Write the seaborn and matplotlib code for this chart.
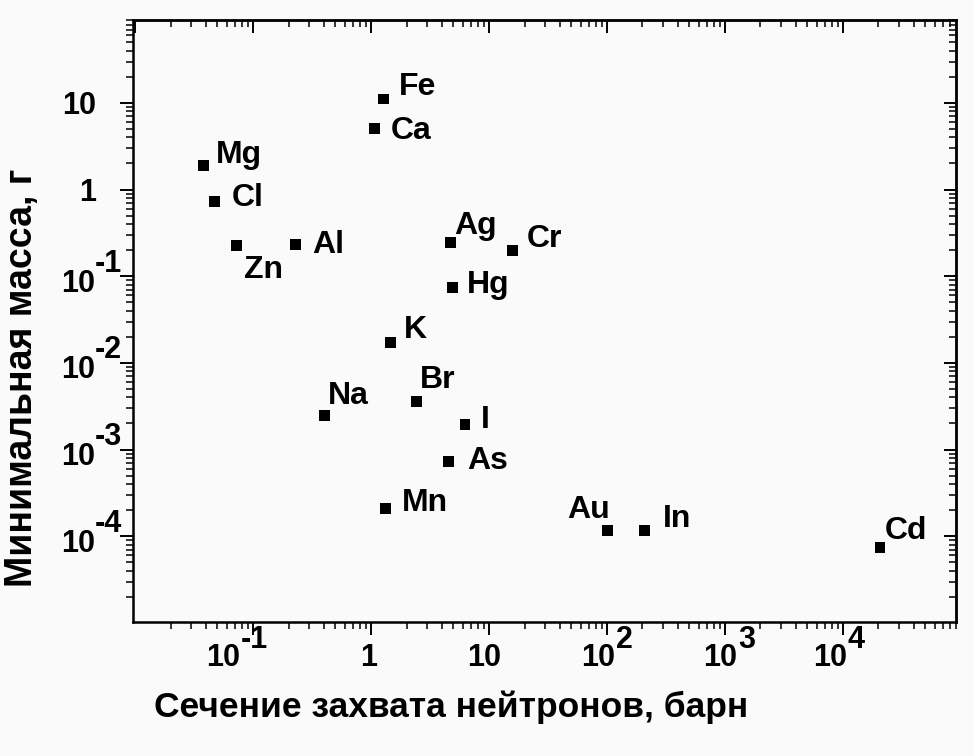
import numpy as np
import pandas as pd
import matplotlib
matplotlib.use("Agg")
import matplotlib.pyplot as plt
import matplotlib.ticker as mticker
import seaborn as sns

# Data (log-log scatter)
elements = ["Fe", "Ca", "Mg", "Cl", "Zn", "Al", "Ag", "Cr", "Hg",
            "K", "Br", "Na", "I", "As", "Mn", "Au", "In", "Cd"]
cross_section = [1.28, 1.08, 0.038, 0.047, 0.072, 0.23, 4.7, 15.9, 4.9,
                 1.46, 2.41, 0.40, 6.26, 4.52, 1.32, 101, 207, 20600]
min_mass = [11.1, 5.06, 1.89, 0.73, 0.226, 0.232, 0.247, 0.200, 0.0736,
            0.0173, 0.00362, 0.00249, 0.00195, 7.3e-4, 2.07e-4, 1.15e-4, 1.15e-4, 7.5e-5]

x_ticks = [1e-1, 1, 10, 1e2, 1e3, 1e4]
x_bases = ["10", "1", "10", "10", "10", "10"]
x_exps = ["-1", "", "", "2", "3", "4"]
y_ticks = [10, 1, 1e-1, 1e-2, 1e-3, 1e-4]
y_bases = ["10", "1", "10", "10", "10", "10"]
y_exps = ["", "", "-1", "-2", "-3", "-4"]

# label placement (pixels from marker, screen y down), ha
label_pos = {
    "Fe": (15, -16, "left"), "Ca": (16, -1, "left"), "Mg": (12, -14, "left"),
    "Cl": (17, -7, "left"), "Zn": (8, 21, "left"), "Al": (17, -3, "left"),
    "Ag": (4, -20, "left"), "Cr": (14, -15, "left"), "Hg": (14, -6, "left"),
    "K": (13, -16, "left"), "Br": (4, -25, "left"), "Na": (4, -23, "left"),
    "I": (16, -8, "left"), "As": (19, -4, "left"), "Mn": (17, -9, "left"),
    "Au": (2, -24, "right"), "In": (19, -15, "left"), "Cd": (5, -20, "left"),
}
# right edge of the "10"/"1" base of x tick labels, pixels from tick
x_label_dx = [-13, 6, 12, 8, 12, 4]

df = pd.DataFrame({"element": elements, "sigma": cross_section, "mass": min_mass})

sns.set_style("white")
plt.rcParams["font.family"] = ["Liberation Sans", "DejaVu Sans"]
plt.rcParams["axes.linewidth"] = 1.8

bg = "#fafafa"
fig = plt.figure(figsize=(9.74, 7.56), dpi=100, facecolor=bg)
ax = fig.add_axes([133 / 974, 1 - 622 / 756, (956 - 133) / 974, (622 - 20) / 756])
ax.set_facecolor(bg)

sns.scatterplot(data=df, x="sigma", y="mass", marker="s", s=62, color="black",
                edgecolor="none", ax=ax, legend=False)

ax.set_xscale("log")
ax.set_yscale("log")
ax.set_xlim(10 ** -2.017, 10 ** 4.958)
ax.set_ylim(10 ** -4.99, 10 ** 1.957)

for spine in ax.spines.values():
    spine.set_color("black")

# ticks: out on bottom/left, in on top/right
ax.set_xticks(x_ticks)
ax.set_yticks(y_ticks)
ax.xaxis.set_minor_locator(mticker.LogLocator(base=10, subs=np.arange(2, 10), numticks=20))
ax.yaxis.set_minor_locator(mticker.LogLocator(base=10, subs=np.arange(2, 10), numticks=20))
ax.xaxis.set_major_formatter(mticker.NullFormatter())
ax.yaxis.set_major_formatter(mticker.NullFormatter())
ax.xaxis.set_minor_formatter(mticker.NullFormatter())
ax.yaxis.set_minor_formatter(mticker.NullFormatter())
ax.tick_params(which="both", bottom=True, left=True, top=False, right=False)
ax.tick_params(which="major", direction="out", length=9.4, width=1.4, color="black")
ax.tick_params(which="minor", direction="out", length=5, width=1.1, color="black")

secx = ax.secondary_xaxis("top")
secy = ax.secondary_yaxis("right")
for sec, axis in ((secx, secx.xaxis), (secy, secy.yaxis)):
    axis.set_major_locator(mticker.LogLocator(base=10, numticks=20))
    axis.set_minor_locator(mticker.LogLocator(base=10, subs=np.arange(2, 10), numticks=20))
    axis.set_major_formatter(mticker.NullFormatter())
    axis.set_minor_formatter(mticker.NullFormatter())
    sec.tick_params(which="major", direction="in", length=9, width=1.4, color="black")
    sec.tick_params(which="minor", direction="in", length=5, width=1.1, color="black")

tick_font = dict(fontsize=22, fontweight="bold", color="black", annotation_clip=False,
                 textcoords="offset pixels", va="center_baseline")

# x tick labels: "10" with a raised full-size exponent
xtrans = ax.get_xaxis_transform()
for t, base, exp, dx in zip(x_ticks, x_bases, x_exps, x_label_dx):
    ax.annotate(base, (t, 0), xycoords=xtrans, xytext=(dx, -32), ha="right", **tick_font)
    if exp:
        ax.annotate(exp, (t, 0), xycoords=xtrans, xytext=(dx + 1, -14), ha="left", **tick_font)

# y tick labels
ytrans = ax.get_yaxis_transform()
for t, base, exp in zip(y_ticks, y_bases, y_exps):
    if exp:
        ax.annotate(base, (0, t), xycoords=ytrans, xytext=(-38, -4), ha="right", **tick_font)
        ax.annotate(exp, (0, t), xycoords=ytrans, xytext=(-38, 16), ha="left", **tick_font)
    else:
        ax.annotate(base, (0, t), xycoords=ytrans, xytext=(-37, 0), ha="right", **tick_font)

# element labels
for name, xv, yv in zip(elements, cross_section, min_mass):
    dx, dy, ha = label_pos[name]
    ax.annotate(name, (xv, yv), xytext=(dx, -dy), textcoords="offset pixels",
                ha=ha, va="center_baseline", fontsize=23, fontweight="bold", color="black")

ax.set_xlabel("Сечение захвата нейтронов, барн", fontsize=25.5, fontweight="bold", color="black")
ax.set_ylabel("Минимальная масса, г", fontsize=27, fontweight="bold", color="black")
ax.xaxis.set_label_coords((451 - 133) / 823, (622 - 690) / 602)
ax.yaxis.set_label_coords((40 - 133) / 823, (622 - 378) / 602)

fig.savefig("out.png", dpi=100, facecolor=bg)
